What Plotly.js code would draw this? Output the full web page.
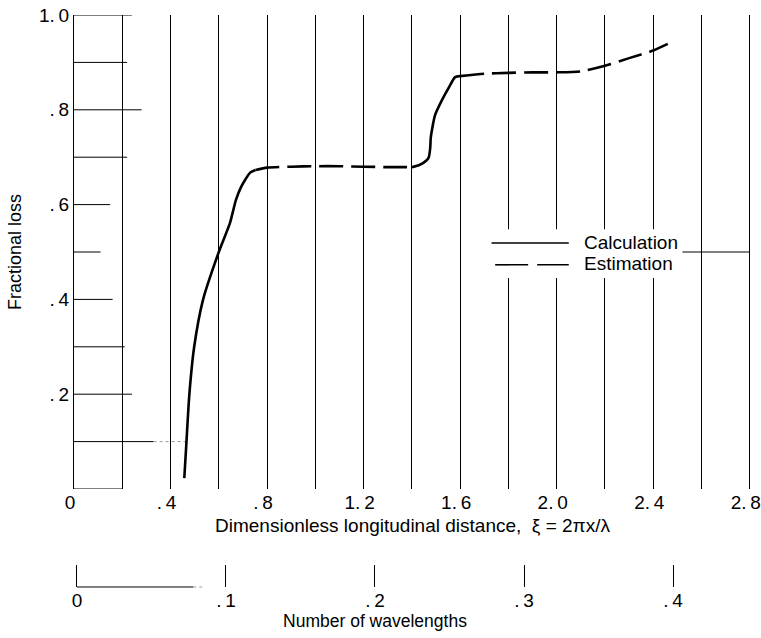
<!DOCTYPE html>
<html>
<head>
<meta charset="utf-8">
<script src="https://cdn.plot.ly/plotly-3.0.1.min.js"></script>
<style>html,body{margin:0;padding:0;background:#fff;}#chart{width:761px;height:638px;}</style>
</head>
<body>
<div id="chart"></div>
<script>
// ---- data ----
var calcXi1   = [0.457, 0.466, 0.478, 0.498, 0.535, 0.600, 0.646, 0.671, 0.692, 0.729, 0.752];
var calcLoss1 = [0.023, 0.100, 0.200, 0.300, 0.400, 0.500, 0.561, 0.610, 0.637, 0.667, 0.673];

var estXi1   = [0.752, 0.80, 0.90, 1.00, 1.10, 1.20, 1.30, 1.40];
var estLoss1 = [0.673, 0.678, 0.680, 0.681, 0.681, 0.680, 0.679, 0.679];

var calcXi2   = [1.400, 1.433, 1.460, 1.470, 1.476, 1.478, 1.484, 1.496, 1.525, 1.554, 1.579, 1.600];
var calcLoss2 = [0.679, 0.684, 0.693, 0.700, 0.720, 0.740, 0.760, 0.789, 0.821, 0.848, 0.869, 0.871];

var estXi2   = [1.60, 1.70, 1.80, 1.90, 2.00, 2.10, 2.20, 2.30, 2.40, 2.46];
var estLoss2 = [0.871, 0.876, 0.878, 0.879, 0.879, 0.881, 0.893, 0.909, 0.925, 0.939];

var TS = '\u2009'; // thin space, as in the original's ". 4" style labels
var xTickVals  = [0, 0.2, 0.4, 0.6, 0.8, 1.0, 1.2, 1.4, 1.6, 1.8, 2.0, 2.2, 2.4, 2.6, 2.8];
var xTickText  = ["0", "", "." + TS + "4", "", "." + TS + "8", "", "1." + TS + "2", "", "1." + TS + "6", "",
                  "2." + TS + "0", "", "2." + TS + "4", "", "2." + TS + "8"];
var yTickVals  = [0.2, 0.4, 0.6, 0.8, 1.0];
var yTickText  = ["." + TS + "2", "." + TS + "4", "." + TS + "6", "." + TS + "8", "1." + TS + "0"];
var wlTickVals = [0, 0.1, 0.2, 0.3, 0.4];
var wlTickText = ["0", "." + TS + "1", "." + TS + "2", "." + TS + "3", "." + TS + "4"];

// partial horizontal rules drawn in the original (loss level, xi end)
var stubLevels = [0.0, 0.1, 0.2, 0.3, 0.4, 0.5, 0.6, 0.7, 0.8, 0.9, 1.0];
var stubEnds   = [0.20, 0.33, 0.24, 0.21, 0.16, 0.11, 0.15, 0.22, 0.28, 0.22, 0.24];

var seriesNames = ["Calculation", "Estimation"];

var FONT = '"Liberation Sans", Arial, sans-serif';

function curve(x, y, name, dash) {
  return {
    x: x, y: y, name: name, type: 'scatter', mode: 'lines',
    xaxis: 'x', yaxis: 'y',
    line: {color: '#000', width: 2.6, dash: dash, shape: 'spline', smoothing: 0.6},
    showlegend: false
  };
}

var traces = [
  curve(calcXi1, calcLoss1, seriesNames[0], 'solid'),
  curve(estXi1, estLoss1, seriesNames[1], '24px,8px'),
  curve(calcXi2, calcLoss2, seriesNames[0], 'solid'),
  curve(estXi2, estLoss2, seriesNames[1], '24px,8px'),
  {x: [0], y: [-1], xaxis: 'x2', yaxis: 'y', type: 'scatter', mode: 'markers',
   marker: {opacity: 0}, showlegend: false, hoverinfo: 'skip'}
];

var shapes = [];
stubLevels.forEach(function (lv, i) {
  shapes.push({type: 'line', xref: 'x', yref: 'y', x0: 0, x1: stubEnds[i], y0: lv, y1: lv,
               line: {color: '#000', width: 1}, layer: 'above'});
});
shapes.push({type: 'line', xref: 'x', yref: 'y', x0: 0.33, x1: 0.46, y0: 0.1, y1: 0.1,
             line: {color: '#999', width: 1, dash: 'dot'}, layer: 'above'});
shapes.push({type: 'line', xref: 'x', yref: 'y', x0: 2.52, x1: 2.8, y0: 0.5, y1: 0.5,
             line: {color: '#000', width: 1}, layer: 'above'});
shapes.push({type: 'rect', xref: 'x', yref: 'y', x0: 1.72, x1: 2.52, y0: 0.445, y1: 0.548,
             fillcolor: '#fff', line: {width: 0}, layer: 'above'});
shapes.push({type: 'line', xref: 'x', yref: 'y', x0: 1.73, x1: 2.05, y0: 0.519, y1: 0.519,
             line: {color: '#000', width: 1.6}, layer: 'above'});
shapes.push({type: 'line', xref: 'x', yref: 'y', x0: 1.745, x1: 2.05, y0: 0.473, y1: 0.473,
             line: {color: '#000', width: 1.6, dash: '33px,9px'}, layer: 'above'});
shapes.push({type: 'line', xref: 'x2', yref: 'paper', x0: 0, x1: 0.078, y0: 0.01887, y1: 0.01887,
             line: {color: '#000', width: 1}});
shapes.push({type: 'line', xref: 'x2', yref: 'paper', x0: 0.078, x1: 0.085, y0: 0.01887, y1: 0.01887,
             line: {color: '#999', width: 1, dash: 'dot'}});

var annotations = [
  {xref: 'x', yref: 'y', x: 2.105, y: 0.521, text: seriesNames[0], showarrow: false,
   xanchor: 'left', yanchor: 'middle', font: {family: FONT, size: 19, color: '#000'}},
  {xref: 'x', yref: 'y', x: 2.105, y: 0.475, text: seriesNames[1], showarrow: false,
   xanchor: 'left', yanchor: 'middle', font: {family: FONT, size: 19, color: '#000'}}
];

var layout = {
  width: 761, height: 638,
  margin: {l: 74, r: 10, t: 15, b: 40, pad: 0},
  paper_bgcolor: '#fff', plot_bgcolor: 'rgba(0,0,0,0)',
  font: {family: FONT, size: 19, color: '#000'},
  showlegend: false,
  hovermode: false,
  xaxis: {
    range: [0, 2.805], anchor: 'y', domain: [0, 1],
    tickmode: 'array', tickvals: xTickVals, ticktext: xTickText, ticks: '',
    showgrid: true, gridcolor: '#000', gridwidth: 1,
    zeroline: false, showline: false, ticklabeloverflow: 'allow', ticklabelshift: -4,
    tickfont: {family: FONT, size: 19},
    title: {text: 'Dimensionless longitudinal distance,  ξ = 2πx/λ', font: {family: FONT, size: 19}, standoff: 6}
  },
  xaxis2: {
    range: [-0.002, 0.402], domain: [0, 0.8892], anchor: 'free', position: 0.01887,
    tickmode: 'array', tickvals: wlTickVals, ticktext: wlTickText,
    ticks: 'inside', ticklen: 22, tickwidth: 1, tickcolor: '#000',
    showgrid: false, zeroline: false, showline: false, ticklabeloverflow: 'allow',
    tickfont: {family: FONT, size: 19},
    title: {text: 'Number of wavelengths', font: {family: FONT, size: 17.5}, standoff: 1}
  },
  yaxis: {
    range: [0, 1], domain: [0.18696, 1], anchor: 'x',
    tickmode: 'array', tickvals: yTickVals, ticktext: yTickText, ticks: '',
    showgrid: false, zeroline: false,
    showline: true, linecolor: '#000', linewidth: 1,
    tickfont: {family: FONT, size: 19},
    title: {text: 'Fractional loss', font: {family: FONT, size: 18}, standoff: 12}
  },
  shapes: shapes,
  annotations: annotations
};

Plotly.newPlot('chart', traces, layout, {displayModeBar: false, staticPlot: true});
</script>
</body>
</html>
